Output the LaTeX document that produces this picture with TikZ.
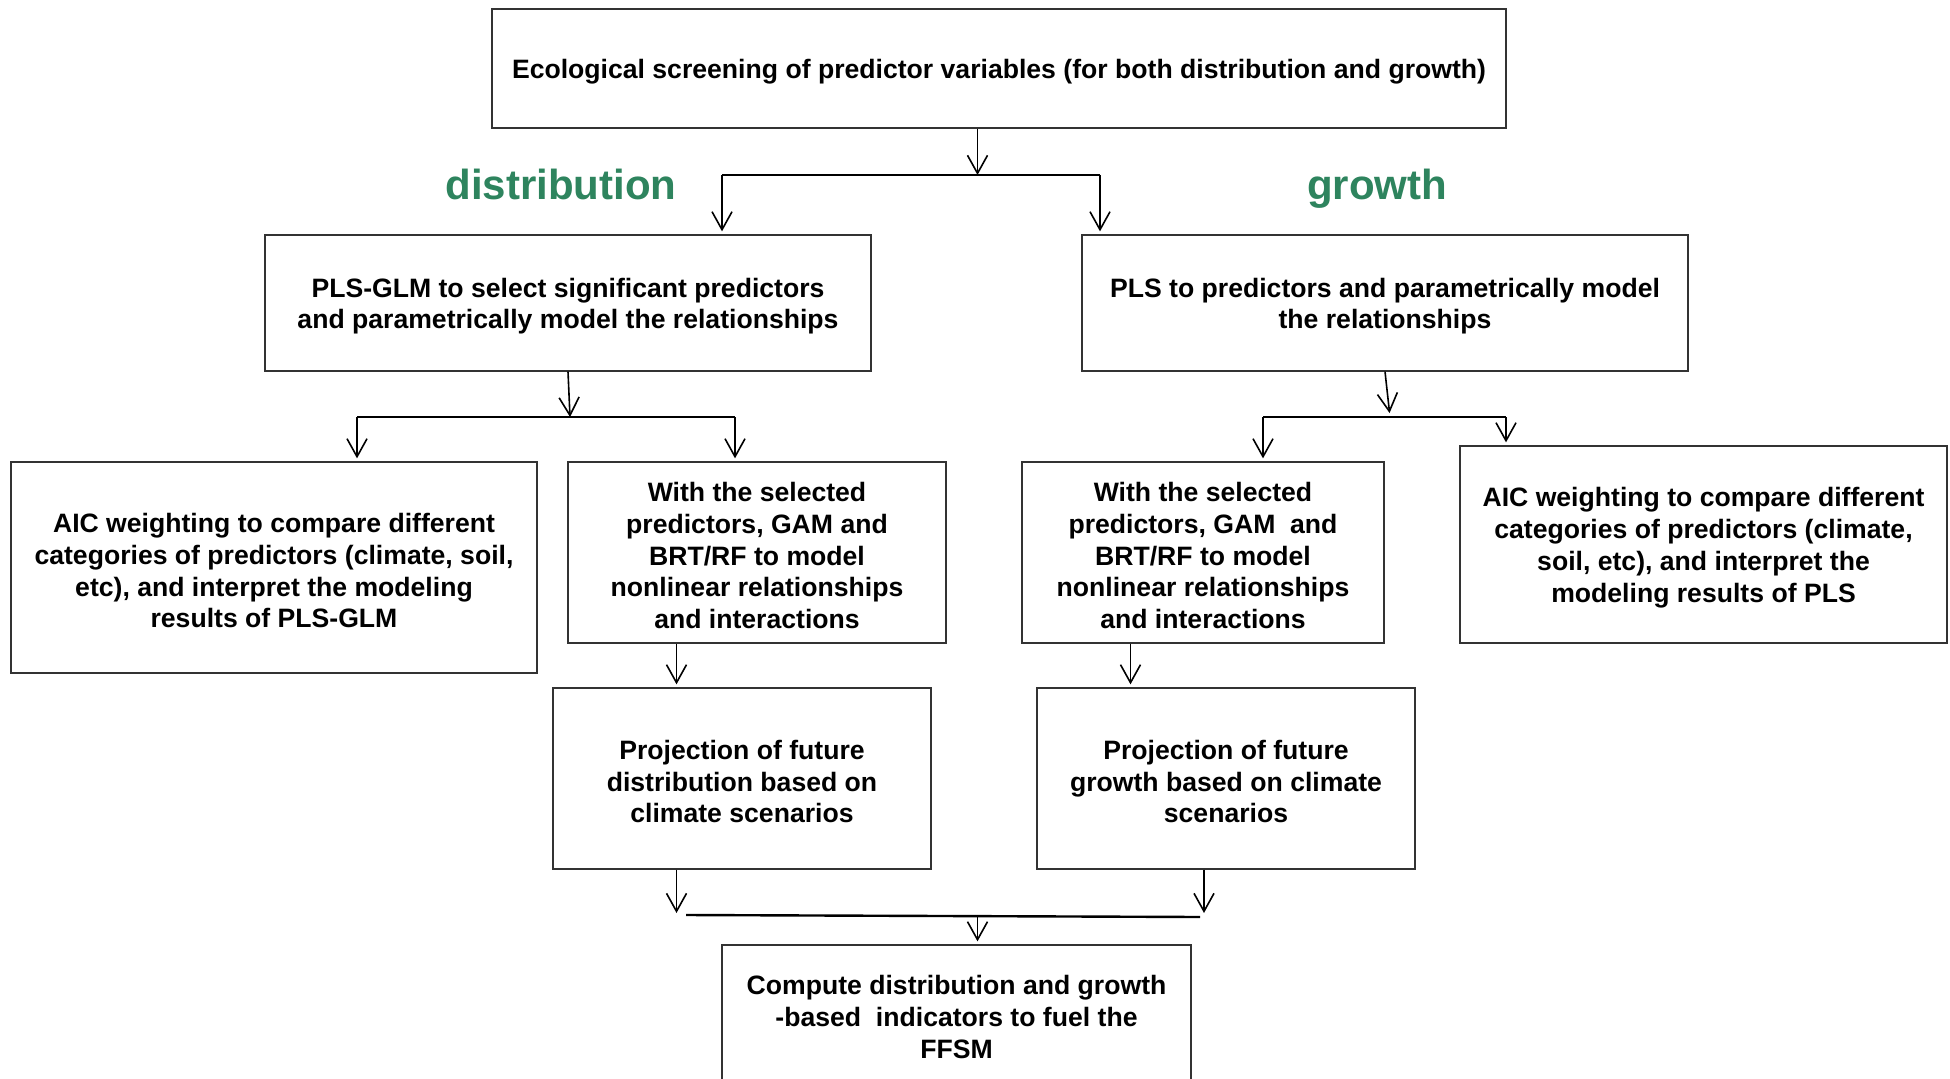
\documentclass[tikz,border=0pt]{standalone}
\usepackage{fontspec}
\setmainfont{Liberation Sans}
\usetikzlibrary{arrows.meta}
\definecolor{grn}{RGB}{46,132,94}
\newcommand\ts{\rule{0pt}{25.5pt}}
\begin{document}
\begin{tikzpicture}[x=1pt,y=-1pt,
  font=\bfseries\fontsize{26.6}{31.8}\selectfont,
  box/.style={draw=black!80,line width=1.3pt,align=center,inner sep=0pt},
  arr/.style={draw=black,line width=1.6pt,-{Straight Barb[length=18pt,width=20pt,line width=1.6pt]}},
  hline/.style={draw=black,line width=2.4pt},
  lab/.style={text=grn,font=\bfseries\fontsize{42}{50}\selectfont,anchor=base,inner sep=0pt}]
\useasboundingbox[fill=white] (0,0) rectangle (1950,1078);

\node[box,minimum width=1014pt,minimum height=119pt] (top) at (999,68.5)
  {\ts Ecological screening of predictor variables (for both distribution and growth)};
\node[lab] (ld) at (561,200) {distribution};
\node[lab] (lg) at (1377,200) {growth};

\node[box,minimum width=606pt,minimum height=136pt] (glm) at (568,303)
  {\ts PLS-GLM to select significant predictors\\and parametrically model the relationships};
\node[box,minimum width=606pt,minimum height=136pt] (pls) at (1385,303)
  {\ts PLS to predictors and parametrically model\\the relationships};

\node[box,minimum width=526pt,minimum height=211pt] (aicL) at (274,567.5)
  {\ts AIC weighting to compare different\\categories of predictors (climate, soil,\\etc), and interpret the modeling\\results of PLS-GLM};
\node[box,minimum width=378pt,minimum height=181pt] (nlL) at (757,552.5)
  {\ts With the selected\\predictors, GAM and\\BRT/RF to model\\nonlinear relationships\\and interactions};
\node[box,minimum width=362pt,minimum height=181pt] (nlR) at (1203,552.5)
  {\ts With the selected\\predictors, GAM~ and\\BRT/RF to model\\nonlinear relationships\\and interactions};
\node[box,minimum width=487pt,minimum height=197pt] (aicR) at (1703.5,544.5)
  {\ts AIC weighting to compare different\\categories of predictors (climate,\\soil, etc), and interpret the\\modeling results of PLS};

\node[box,minimum width=378pt,minimum height=181pt] (prL) at (742,778.5)
  {\ts Projection of future\\distribution based on\\climate scenarios};
\node[box,minimum width=378pt,minimum height=181pt] (prR) at (1226,778.5)
  {\ts Projection of future\\growth based on climate\\scenarios};

\node[box,minimum width=469pt,minimum height=138pt] (fin) at (956.5,1014)
  {\ts Compute distribution and growth\\-based~ indicators to fuel the\\FFSM};

% level 1
\coordinate (j1) at (977.5,175);
\coordinate (jL1) at (722,175);
\coordinate (jR1) at (1100,175);
\draw[arr] (top.south -| j1) -- (j1);
\draw[hline] (jL1) -- (jR1);
\draw[arr,shorten >=3pt] (jL1) -- (jL1 |- glm.north);
\draw[arr,shorten >=3pt] (jR1) -- (jR1 |- pls.north);

% level 2 left
\coordinate (j2) at (570,417);
\coordinate (jL2) at (357,417);
\coordinate (jR2) at (735,417);
\draw[arr] (glm.south) -- (j2);
\draw[hline] (jL2) -- (jR2);
\draw[arr,shorten >=3pt] (jL2) -- (jL2 |- aicL.north);
\draw[arr,shorten >=3pt] (jR2) -- (jR2 |- nlL.north);

% level 2 right
\coordinate (j3) at (1390,417);
\coordinate (jL3) at (1263,417);
\coordinate (jR3) at (1506,417);
\draw[arr,shorten >=4pt] (pls.south) -- (j3);
\draw[hline] (jL3) -- (jR3);
\draw[arr,shorten >=3pt] (jL3) -- (jL3 |- nlR.north);
\draw[arr,shorten >=3pt] (jR3) -- (jR3 |- aicR.north);

% level 3
\coordinate (cL) at (676.5,643);
\coordinate (cR) at (1130.5,643);
\draw[arr,shorten >=3pt] (nlL.south -| cL) -- (prL.north -| cL);
\draw[arr,shorten >=3pt] (nlR.south -| cR) -- (prR.north -| cR);

% bottom
\coordinate (bL) at (676.5,913);
\coordinate (bR) at (1204,913);
\coordinate (hL) at (686,915);
\coordinate (hR) at (1200,917);
\coordinate (bm) at (977.5,916);
\draw[arr] (prL.south -| bL) -- (bL);
\draw[arr] (prR.south -| bR) -- (bR);
\draw[hline] (hL) -- (hR);
\draw[arr,shorten >=3pt] (bm) -- (fin.north -| bm);
\end{tikzpicture}
\end{document}
